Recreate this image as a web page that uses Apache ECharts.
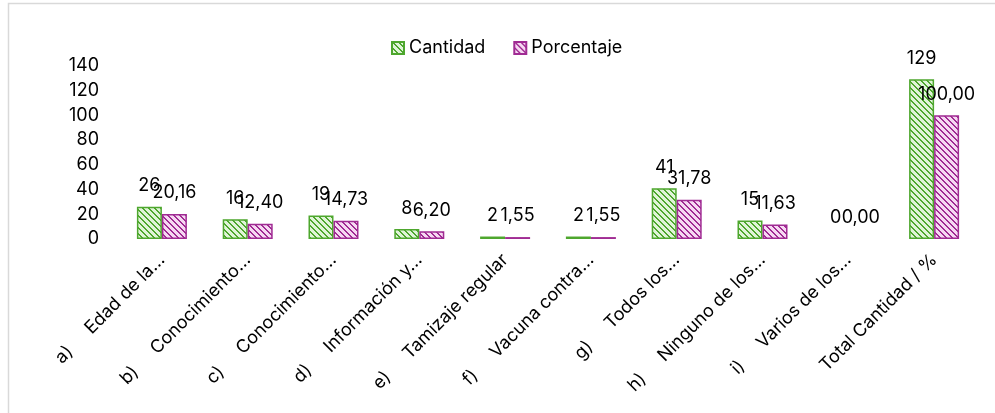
<!DOCTYPE html>
<html>
<head>
<meta charset="utf-8">
<script src="https://cdn.jsdelivr.net/npm/echarts@6/dist/echarts.min.js"></script>
<style>
  html, body { margin: 0; padding: 0; background: #fff; }
  #chart { width: 995px; height: 413px; }
</style>
</head>
<body>
<div id="chart"></div>
<script>
// data
const categories = [
  'a)     Edad de la…',
  'b)     Conocimiento…',
  'c)     Conocimiento…',
  'd)     Información y…',
  'e)     Tamizaje regular',
  'f)     Vacuna contra…',
  'g)     Todos los…',
  'h)     Ninguno de los…',
  'i)     Varios de los…',
  'Total Cantidad / %'
]
const cantidad = [26, 16, 19, 8, 2, 2, 41, 15, 0, 129]
const porcentaje = [20.16, 12.40, 14.73, 6.20, 1.55, 1.55, 31.78, 11.63, 0.00, 100.00]
const yTicks = [0, 20, 40, 60, 80, 100, 120, 140]

const FONT = 'Inter'

// excel-like "wide downward diagonal" hatch
function hatch (bg, fg) {
  const c = document.createElement('canvas')
  c.width = 6
  c.height = 6
  const ctx = c.getContext('2d')
  ctx.fillStyle = bg
  ctx.fillRect(0, 0, 6, 6)
  ctx.fillStyle = fg
  for (let i = 0; i < 6; i++) {
    ctx.fillRect(i, i, 1, 1)
    ctx.fillRect((i + 1) % 6, i, 1, 1)
  }
  return { image: c, repeat: 'repeat' }
}

const green = '#4ea72e'
const magenta = '#a02b93'

// zero-height bars draw nothing in the original, so drop their border
const asBars = values => values.map(v => v === 0 ? { value: v, itemStyle: { borderWidth: 0 } } : v)

const chart = echarts.init(document.getElementById('chart'))

chart.setOption({
  animation: false,
  textStyle: { fontFamily: FONT },
  graphic: [{
    type: 'rect',
    shape: { x: 8.5, y: 3.5, width: 1100, height: 600 },
    style: { fill: 'none', stroke: '#d9d9d9', lineWidth: 1.5 },
    silent: true
  }],
  legend: {
    top: 34,
    left: 386,
    icon: 'rect',
    itemWidth: 12,
    itemHeight: 12,
    itemGap: 28,
    textStyle: { fontSize: 18, color: '#000', fontFamily: FONT },
    data: ['Cantidad', 'Porcentaje']
  },
  grid: { left: 119, right: 18, top: 65.7, bottom: 174, containLabel: false },
  xAxis: {
    type: 'category',
    data: categories,
    axisLine: { show: false },
    axisTick: { show: false },
    axisLabel: {
      interval: 0,
      rotate: 45,
      margin: 18,
      fontSize: 18,
      color: '#000',
      fontFamily: FONT
    }
  },
  yAxis: {
    type: 'value',
    min: yTicks[0],
    max: yTicks[yTicks.length - 1],
    interval: 20,
    splitLine: { show: false },
    axisLine: { show: false },
    axisTick: { show: false },
    axisLabel: { fontSize: 18, color: '#000', margin: 20, fontFamily: FONT }
  },
  series: [{
    name: 'Cantidad',
    type: 'bar',
    data: asBars(cantidad),
    barWidth: 25,
    barGap: '0%',
    itemStyle: { color: hatch('#e0f4d8', green), borderColor: green, borderWidth: 1.5 },
    label: {
      show: true,
      position: 'top',
      distance: 12,
      fontSize: 18,
      color: '#000',
      fontFamily: FONT
    }
  }, {
    name: 'Porcentaje',
    type: 'bar',
    data: asBars(porcentaje),
    barWidth: 25,
    barGap: '0%',
    itemStyle: { color: hatch('#f6d8f2', magenta), borderColor: magenta, borderWidth: 1.5 },
    label: {
      show: true,
      position: 'top',
      distance: 12,
      fontSize: 18,
      color: '#000',
      fontFamily: FONT,
      formatter: p => p.value.toFixed(2).replace('.', ',')
    }
  }]
})
</script>
</body>
</html>
